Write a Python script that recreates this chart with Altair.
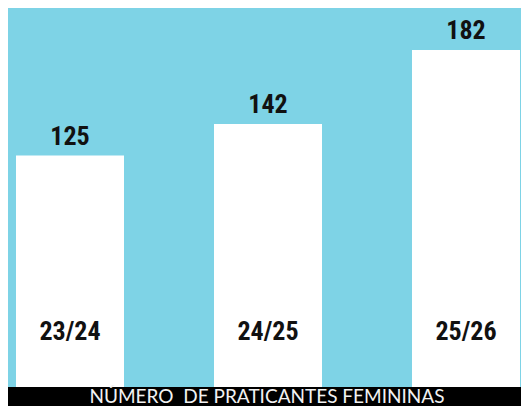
import altair as alt
import pandas as pd

seasons = ["23/24", "24/25", "25/26"]
values = [125, 142, 182]
banner_text = ["NÚMERO\u00a0 DE PRATICANTES FEMININAS"]

df = pd.DataFrame({"season": seasons, "value": values})
bdf = pd.DataFrame({"t": banner_text})

W, H = 513, 398
BASE = 379
COND = "Roboto Condensed, DejaVu Sans Condensed, Liberation Sans Narrow, Roboto, sans-serif"

x = alt.X("season:N", sort=seasons, axis=None,
          scale=alt.Scale(paddingInner=0.4545, paddingOuter=0.0404, range=[0, 520]))
yscale = alt.Scale(domain=[0, 204.7], range=[BASE, 0])

base = alt.Chart(df)
bars = base.mark_bar(color="white").encode(
    x=x, y=alt.Y("value:Q", scale=yscale, axis=None)
)
vals = base.mark_text(font=COND, fontSize=26, fontWeight="bold", color="#111111",
                      baseline="alphabetic", dy=-11).encode(
    x=x, y=alt.Y("value:Q", scale=yscale, axis=None), text="value:Q"
)
cats = base.mark_text(font=COND, fontSize=26, fontWeight="bold", color="#111111",
                      baseline="middle", dy=-55).encode(
    x=x, y=alt.datum(0, scale=yscale), text="season:N"
)

banner = alt.Chart(bdf).mark_rect(color="black").encode(
    x=alt.value(0), x2=alt.value(W), y=alt.value(BASE), y2=alt.value(H)
)
btext = alt.Chart(bdf).mark_text(font="Lato", fontSize=19, color="#f2f2f2",
                                 baseline="middle", align="center").encode(
    x=alt.value(259), y=alt.value(389), text="t:N"
)

chart = alt.layer(bars, vals, cats, banner, btext).properties(
    width=W, height=H, autosize=alt.AutoSizeParams(type="none"), padding=0,
    background="#7ed3e6"
).configure_view(stroke=None)

chart.save("out.html", embed_options={"renderer": "svg", "actions": False})
